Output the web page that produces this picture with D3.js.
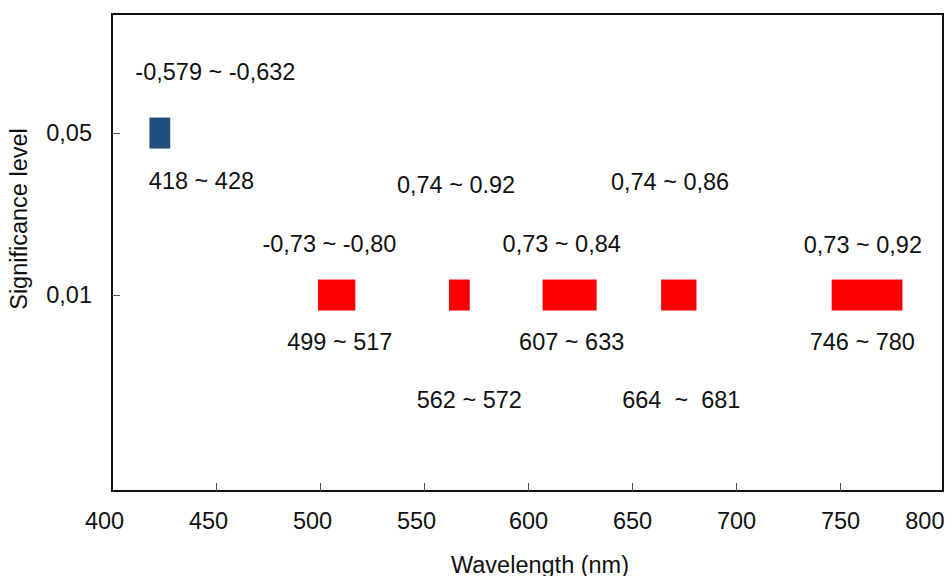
<!DOCTYPE html>
<html>
<head>
<meta charset="utf-8">
<script src="https://cdn.jsdelivr.net/npm/d3@7"></script>
<style>
  body { margin: 0; background: #fff; }
  text { font-family: "Liberation Sans", Arial, sans-serif; fill: #111; }
</style>
</head>
<body>
<svg width="951" height="576"></svg>
<script>
// significance levels (row 0 = top)
var levels = ["0,05", "0,01"];

// significant wavelength bands
var bandStart = [418, 499, 562, 607, 664, 746];
var bandEnd   = [428, 517, 572, 633, 681, 780];
var bandLevel = [0, 1, 1, 1, 1, 1];

// correlation labels (x in nm, y in rows)
var corrText = ["-0,579 ~ -0,632", "-0,73 ~ -0,80", "0,74 ~ 0.92", "0,73 ~ 0,84", "0,74 ~ 0,86", "0,73 ~ 0,92"];
var corrX    = [449.7, 504.5, 565.4, 616.2, 668.3, 761];
var corrRow  = [-0.327, 0.733, 0.372, 0.733, 0.352, 0.739];

// range labels
var rangeText = ["418 ~ 428", "499 ~ 517", "562 ~ 572", "607 ~ 633", "664  ~  681", "746 ~ 780"];
var rangeX    = [443, 509.5, 571.8, 621, 673.7, 760.7];
var rangeRow  = [0.346, 1.34, 1.698, 1.34, 1.698, 1.34];

var xTicks = [400, 450, 500, 550, 600, 650, 700, 750, 800];

var svg = d3.select("svg");
var mLeft = 112, mRight = 944, mTop = 14, mBottom = 491;
var fs = "23.5px";

var x = d3.scaleLinear().domain([400, 800]).range([mLeft, mRight]);
var y = d3.scaleLinear().domain([-0.735, 2.21]).range([mTop, mBottom]);

// frame
svg.append("rect")
  .attr("x", mLeft).attr("y", mTop)
  .attr("width", mRight - 1 - mLeft).attr("height", mBottom - mTop)
  .attr("fill", "none").attr("stroke", "#111").attr("stroke-width", 2);

// x axis
var xAxis = svg.append("g")
  .attr("transform", "translate(0," + mBottom + ")")
  .call(d3.axisBottom(x).tickValues(xTicks).tickSize(-8).tickPadding(21).tickFormat(d3.format("d")));
xAxis.select(".domain").remove();
xAxis.selectAll("line").attr("stroke", "#555");
xAxis.selectAll(".tick").filter(function(d) { return d == 400 || d == 800; }).select("line").remove();
xAxis.selectAll("text")
  .style("font-size", fs).attr("fill", "#111")
  .style("font-family", "Liberation Sans, Arial, sans-serif")
  .attr("dx", function(d) { return d < 600 ? -8 : 0; })
  .attr("text-anchor", function(d) { return d == 800 ? "end" : "middle"; });

// y axis
var yAxis = svg.append("g")
  .attr("transform", "translate(" + mLeft + ",0)")
  .call(d3.axisLeft(y).tickValues([0, 1]).tickSize(-8).tickPadding(20).tickFormat(function(d) { return levels[d]; }));
yAxis.select(".domain").remove();
yAxis.selectAll("line").attr("stroke", "#555");
yAxis.selectAll("text").style("font-size", fs).attr("fill", "#111").style("font-family", "Liberation Sans, Arial, sans-serif");

// bars
var barH = 31;
svg.selectAll(".band")
  .data(bandStart)
  .join("rect")
  .attr("class", "band")
  .attr("x", function(d, i) { return x(d); })
  .attr("width", function(d, i) { return x(bandEnd[i]) - x(d); })
  .attr("y", function(d, i) { return y(bandLevel[i]) - barH / 2; })
  .attr("height", barH)
  .attr("fill", function(d, i) { return bandLevel[i] == 0 ? "#1e4d7e" : "#ff0000"; });

// labels
svg.selectAll(".corr")
  .data(corrText)
  .join("text")
  .attr("class", "corr")
  .attr("x", function(d, i) { return x(corrX[i]); })
  .attr("y", function(d, i) { return y(corrRow[i]); })
  .attr("text-anchor", "middle")
  .style("font-size", fs)
  .style("white-space", "pre")
  .text(function(d) { return d; });

svg.selectAll(".range")
  .data(rangeText)
  .join("text")
  .attr("class", "range")
  .attr("x", function(d, i) { return x(rangeX[i]); })
  .attr("y", function(d, i) { return y(rangeRow[i]); })
  .attr("text-anchor", "middle")
  .style("white-space", "pre")
  .style("font-size", fs)
  .text(function(d) { return d; });

// axis titles
svg.append("text")
  .attr("x", 540).attr("y", 573)
  .attr("text-anchor", "middle")
  .style("font-size", fs)
  .text("Wavelength (nm)");

svg.append("text")
  .attr("transform", "translate(27,219) rotate(-90)")
  .attr("text-anchor", "middle")
  .style("font-size", fs)
  .text("Significance level");
</script>
</body>
</html>
